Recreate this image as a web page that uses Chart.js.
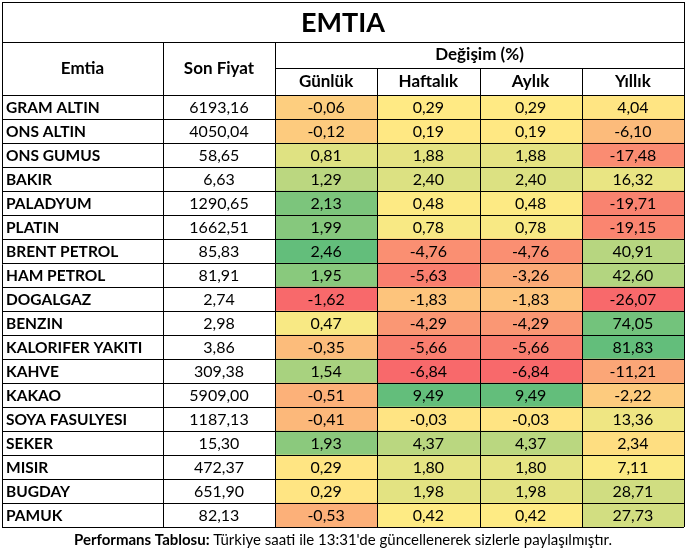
<!DOCTYPE html>
<html>
<head>
<meta charset="utf-8">
<script src="https://cdn.jsdelivr.net/npm/chart.js@4"></script>
<style>
  html, body { margin: 0; padding: 0; background: #fff; }
  #wrap { width: 687px; height: 552px; }
</style>
</head>
<body>
<div id="wrap"><canvas id="emtiaChart"></canvas></div>
<script>
const names = ['GRAM ALTIN', 'ONS ALTIN', 'ONS GUMUS', 'BAKIR', 'PALADYUM', 'PLATIN', 'BRENT PETROL', 'HAM PETROL', 'DOGALGAZ', 'BENZIN', 'KALORIFER YAKITI', 'KAHVE', 'KAKAO', 'SOYA FASULYESI', 'SEKER', 'MISIR', 'BUGDAY', 'PAMUK'];
const prices = ['6193,16', '4050,04', '58,65', '6,63', '1290,65', '1662,51', '85,83', '81,91', '2,74', '2,98', '3,86', '309,38', '5909,00', '1187,13', '15,30', '472,37', '651,90', '82,13'];
const periods = ['Günlük', 'Haftalık', 'Aylık', 'Yıllık'];
const daily = [-0.06, -0.12, 0.81, 1.29, 2.13, 1.99, 2.46, 1.95, -1.62, 0.47, -0.35, 1.54, -0.51, -0.41, 1.93, 0.29, 0.29, -0.53];
const weekly = [0.29, 0.19, 1.88, 2.40, 0.48, 0.78, -4.76, -5.63, -1.83, -4.29, -5.66, -6.84, 9.49, -0.03, 4.37, 1.80, 1.98, 0.42];
const monthly = [0.29, 0.19, 1.88, 2.40, 0.48, 0.78, -4.76, -3.26, -1.83, -4.29, -5.66, -6.84, 9.49, -0.03, 4.37, 1.80, 1.98, 0.42];
const yearly = [4.04, -6.10, -17.48, 16.32, -19.71, -19.15, 40.91, 42.60, -26.07, 74.05, 81.83, -11.21, -2.22, 13.36, 2.34, 7.11, 28.71, 27.73];
const columns = [daily, weekly, monthly, yearly];

const FONT = 'Lato, "Open Sans", sans-serif';

// Excel-style 3 colour scale: red -> yellow (median) -> green
const RED = [248, 105, 107], YEL = [255, 235, 132], GRN = [99, 190, 123];
function mix(a, b, t) {
  return 'rgb(' + a.map((v, i) => Math.round(v + (b[i] - v) * t)).join(',') + ')';
}
function scaleColor(v, arr) {
  const s = [...arr].sort((a, b) => a - b);
  const mid = (s[Math.floor((s.length - 1) / 2)] + s[Math.ceil((s.length - 1) / 2)]) / 2;
  const lo = s[0], hi = s[s.length - 1];
  if (v <= mid) return mix(RED, YEL, (v - lo) / (mid - lo || 1));
  return mix(YEL, GRN, (v - mid) / (hi - mid || 1));
}
const fmt = v => v.toFixed(2).replace('.', ',');

const datasets = columns.map((col, c) => ({
  label: periods[c],
  data: col.map(() => [c, c + 1]),
  backgroundColor: col.map(v => scaleColor(v, col)),
  borderWidth: 0,
  barPercentage: 1,
  categoryPercentage: 1,
  grouped: false
}));

const tablePlugin = {
  id: 'table',
  afterDraw(chart) {
    const ctx = chart.ctx;
    const x = chart.scales.x, y = chart.scales.y;
    const area = chart.chartArea;
    const rowH = (area.bottom - area.top) / names.length;
    const L = 2, R = area.right, colSplit = 163;
    const titleB = 42, head1 = 68;
    ctx.save();
    ctx.fillStyle = '#000';
    ctx.textBaseline = 'middle';

    // cell text
    names.forEach((n, r) => {
      const cy = y.getPixelForValue(r) + 1;
      ctx.font = 'bold 15.5px ' + FONT;
      ctx.textAlign = 'left';
      ctx.fillText(n, L + 4, cy);
      ctx.font = '16px ' + FONT;
      ctx.textAlign = 'center';
      ctx.fillText(prices[r], (colSplit + area.left) / 2, cy);
      columns.forEach((col, c) => {
        ctx.fillText(fmt(col[r]), x.getPixelForValue(c + 0.5), cy);
      });
    });

    // headers
    ctx.font = 'bold 27px ' + FONT;
    ctx.fillText('EMTIA', (L + R) / 2, (L + titleB) / 2 + 1);
    ctx.font = 'bold 17px ' + FONT;
    ctx.fillText('Emtia', (L + colSplit) / 2, (titleB + area.top) / 2);
    ctx.fillText('Son Fiyat', (colSplit + area.left) / 2, (titleB + area.top) / 2);
    ctx.fillText('Değişim (%)', (area.left + R) / 2, (titleB + head1) / 2);
    periods.forEach((p, c) => ctx.fillText(p, x.getPixelForValue(c + 0.5), (head1 + area.top) / 2));

    // grid lines
    ctx.strokeStyle = '#000';
    ctx.lineWidth = 1;
    ctx.beginPath();
    const h = (x1, x2, yy) => { ctx.moveTo(x1, Math.round(yy) + 0.5); ctx.lineTo(x2, Math.round(yy) + 0.5); };
    const v = (xx, y1, y2) => { ctx.moveTo(Math.round(xx) + 0.5, y1); ctx.lineTo(Math.round(xx) + 0.5, y2); };
    h(L, R, L); h(L, R, titleB); h(area.left, R, head1);
    for (let r = 0; r <= names.length; r++) h(L, R, area.top + r * rowH);
    v(L, L, area.bottom); v(R, L, area.bottom);
    v(colSplit, titleB, area.bottom); v(area.left, titleB, area.bottom);
    for (let c = 1; c < periods.length; c++) v(x.getPixelForValue(c), head1, area.bottom);
    ctx.stroke();

    // footer
    const a = 'Performans Tablosu: ', b = "Türkiye saati ile 13:31'de güncellenerek sizlerle paylaşılmıştır.";
    ctx.font = 'bold 15px ' + FONT;
    const wa = ctx.measureText(a).width;
    ctx.font = '15px ' + FONT;
    const wb = ctx.measureText(b).width;
    const sx = (L + R) / 2 - (wa + wb) / 2, fy = area.bottom + 13;
    ctx.textAlign = 'left';
    ctx.font = 'bold 15px ' + FONT;
    ctx.fillText(a, sx, fy);
    ctx.font = '15px ' + FONT;
    ctx.fillText(b, sx + wa, fy);
    ctx.restore();
  }
};

new Chart(document.getElementById('emtiaChart'), {
  type: 'bar',
  data: { labels: names, datasets },
  options: {
    indexAxis: 'y',
    responsive: true,
    maintainAspectRatio: false,
    animation: false,
    layout: { padding: { left: 275, right: 3, top: 95, bottom: 25 } },
    plugins: { legend: { display: false }, tooltip: { enabled: false } },
    scales: {
      x: { type: 'linear', min: 0, max: periods.length, display: false },
      y: { display: false }
    }
  },
  plugins: [tablePlugin]
});
</script>
</body>
</html>
